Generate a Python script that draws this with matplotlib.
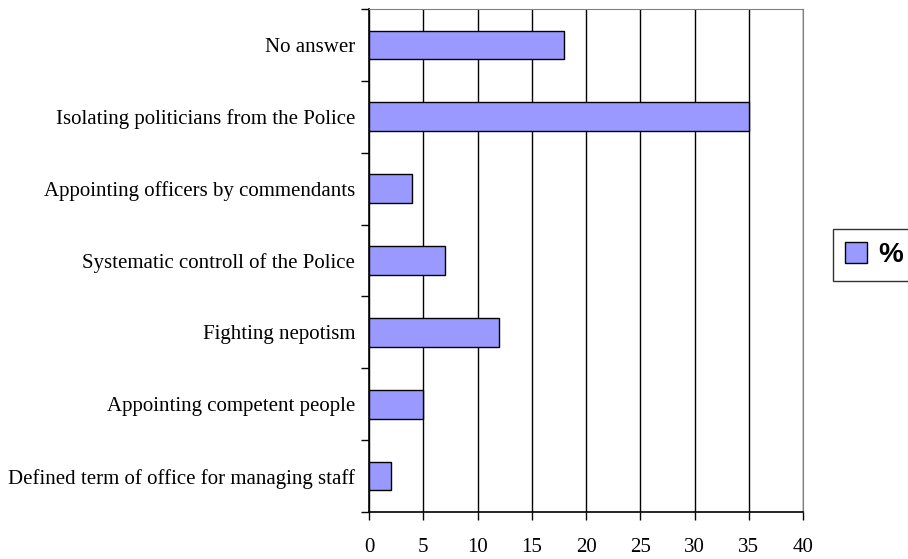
import matplotlib
matplotlib.use("Agg")
import matplotlib.pyplot as plt
import numpy as np

# categories listed top to bottom, as in the chart
categories = ["No answer",
              "Isolating politicians from the Police",
              "Appointing officers by commendants",
              "Systematic controll of the Police",
              "Fighting nepotism",
              "Appointing competent people",
              "Defined term of office for managing staff"]
percent = [18, 35, 4, 7, 12, 5, 2]
xticks = [0, 5, 10, 15, 20, 25, 30, 35, 40]

plt.rcParams['font.family'] = ['Liberation Serif', 'DejaVu Serif']

fig = plt.figure(figsize=(9.08, 5.59), dpi=100)
ax = fig.add_axes([0.4064, 0.0841, 0.4780, 0.8998])

y = np.arange(len(categories))
bars = ax.barh(y, percent, height=0.4, color="#9999FF", edgecolor="black",
               linewidth=1.0, label="%", zorder=3)

ax.set_xlim(0, 40)
ax.set_ylim(len(categories) - 0.5, -0.5)
ax.set_xticks(xticks)
ax.set_xticklabels([str(v) for v in xticks], fontsize=15)
ax.xaxis.grid(True, color="black", linewidth=1.0, zorder=0)
ax.set_axisbelow(True)

ax.set_yticks(y)
ax.set_yticklabels(categories, fontsize=15)
ax.set_yticks(np.arange(-0.5, len(categories), 1.0), minor=True)
ax.tick_params(axis="y", which="major", length=0, pad=10)
ax.tick_params(axis="y", which="minor", length=6, width=1.0, direction="out")
ax.tick_params(axis="x", length=6, width=1.0, direction="out", pad=13)

ax.spines["left"].set_linewidth(1.2)
ax.spines["bottom"].set_linewidth(1.2)
ax.spines["top"].set_color("#808080")
ax.spines["right"].set_color("#808080")

# legend sits partly outside the figure, as in the original
leg = fig.legend(handles=[bars], labels=["%"], loc="center left",
                 bbox_to_anchor=(0.917, 0.544), borderaxespad=0, frameon=True, fancybox=False,
                 edgecolor="black", prop={"family": "Liberation Sans", "weight": "bold", "size": 20},
                 handlelength=0.8, handleheight=0.8, handletextpad=0.4,
                 borderpad=0.45)
leg.get_frame().set_linewidth(1.0)

fig.savefig("out.png", dpi=100)
